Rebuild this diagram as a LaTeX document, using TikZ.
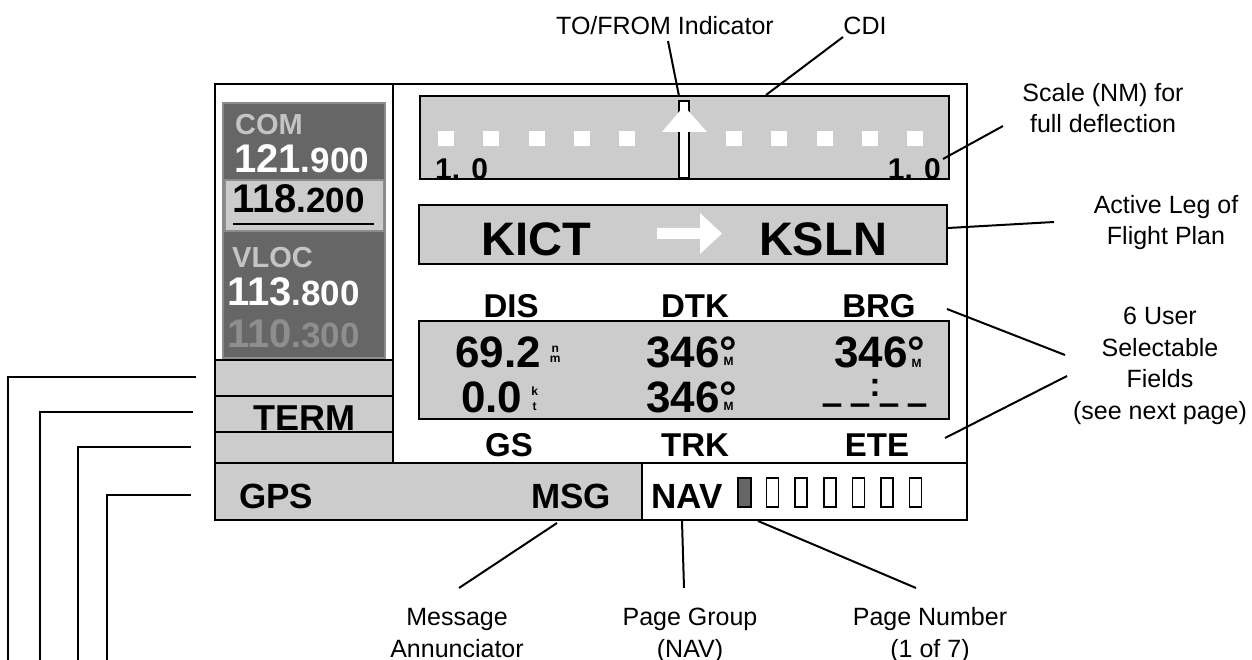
\documentclass[tikz,border=0pt]{standalone}
\usepackage{fontspec}
\setmainfont{Liberation Sans}
\definecolor{lcd}{HTML}{CCCCCC}
\definecolor{dk}{HTML}{666666}
\definecolor{dkb}{HTML}{8C8C8C}
\definecolor{comc}{HTML}{C4C4C4}
\definecolor{dim}{HTML}{8E8E8E}
\newcommand{\fs}[1]{\fontsize{#1}{#1}\selectfont}
\newcommand{\uscore}{\scalebox{0.95}[2.6]{\_}}
\newcommand{\degM}[1]{\llap{\raisebox{#1}{\makebox[17pt]{\fs{12}M}}}}
\begin{document}
\begin{tikzpicture}[x=1pt,y=-1pt,
  frame/.style={draw=black,line width=2pt},
  leader/.style={draw=black,line width=2pt},
  lbl/.style={font=\fontsize{25}{31.5}\selectfont, align=center, inner sep=0pt, anchor=base},
  bt/.style={font=\bfseries, inner sep=0pt, anchor=base}]
\useasboundingbox (0,0) rectangle (1252,660);

% ---------- display background ----------
\fill[lcd] (215,360) rectangle (393,463);
\fill[lcd] (215,463) rectangle (642,520);
\draw[frame] (215,84) rectangle (967,520);
\draw[frame] (393,84) -- (393,463);
\draw[frame] (215,463) -- (967,463);
\draw[frame] (642,463) -- (642,520);
\draw[frame] (215,360) -- (393,360);
\draw[frame] (215,396) -- (393,396);
\draw[frame] (215,432) -- (393,432);

% ---------- radio panel ----------
\draw[fill=dk, draw=dkb, line width=2pt] (223,103) rectangle (385,358);
\draw[fill=lcd, draw=dkb, line width=1.5pt] (225,180) rectangle (384,231);
\node[bt, anchor=base west, text=comc, font=\fs{29}\bfseries] (com) at (235,135) {COM};
\node[bt, anchor=base west, text=white] (f1) at (234,173) {\fs{40}121\fs{35}.900};
\node[bt, anchor=base west, text=black] (f2) at (232,213) {\fs{40}118\fs{35}.200};
\draw[line width=2.5pt] (233,224) -- (374,224);
\node[bt, anchor=base west, text=comc, font=\fs{29}\bfseries] (vloc) at (232,267) {VLOC};
\node[bt, anchor=base west, text=white] (f3) at (227,305) {\fs{40}113\fs{35}.800};
\node[bt, anchor=base west, text=dim] (f4) at (227,347) {\fs{40}110\fs{35}.300};

\node[bt, font=\fs{36}\bfseries] (term) at (304,430) {TERM};
\node[bt, anchor=base west, font=\fs{35}\bfseries] (gps) at (239,508) {GPS};
\node[bt, anchor=base east, font=\fs{35}\bfseries] (msg) at (611,508) {MSG};
\node[bt, anchor=base west, font=\fs{35}\bfseries] (nav) at (651,508) {NAV};
\foreach \i in {0,...,6}{
  \pgfmathsetmacro{\px}{738+28.6*\i}
  \ifnum\i=0
    \draw[fill=dk, line width=1.5pt] (\px,478) rectangle (\px+13,507);
  \else
    \draw[fill=white, line width=1.5pt] (\px,478) rectangle (\px+12,507);
  \fi
}

% ---------- CDI ----------
\draw[fill=lcd, line width=2pt] (420,96) rectangle (949,179);
\foreach \cx in {446,491,537,582,627,734,779,825,870,915}
  \fill[white] (\cx-8,131) rectangle (\cx+8,146);
\draw[fill=white, line width=1.5pt] (679,101) rectangle (689,178);
\fill[white] (684,106) -- (707,132) -- (662,132) -- cycle;
\node[bt, anchor=base west, font=\fs{30}\bfseries] (scl) at (435,180) {1. 0};
\node[bt, anchor=base east, font=\fs{30}\bfseries] (scr) at (941,180) {1. 0};

% ---------- active leg ----------
\draw[fill=lcd, line width=2pt] (419,205) rectangle (947,264);
\node[bt, font=\fs{47}\bfseries] (from) at (536,255) {KICT};
\node[bt, font=\fs{47}\bfseries] (to) at (823,255) {KSLN};
\fill[white] (657,228) -- (700,228) -- (700,213) -- (722,233.5) -- (700,254) -- (700,239) -- (657,239) -- cycle;

% ---------- data fields ----------
\draw[fill=lcd, line width=2pt] (419,321) rectangle (949,419);
\node[bt, font=\fs{33}\bfseries] (dis) at (511,317) {DIS};
\node[bt, font=\fs{33}\bfseries] (dtk) at (695,317) {DTK};
\node[bt, font=\fs{33}\bfseries] (brg) at (879,317) {BRG};
\node[bt, font=\fs{33}\bfseries] (gs) at (509,456) {GS};
\node[bt, font=\fs{33}\bfseries] (trk) at (695,456) {TRK};
\node[bt, font=\fs{33}\bfseries] (ete) at (877,456) {ETE};

\node[bt, anchor=base west, font=\fs{44}\bfseries] (v1) at (455,367)
  {69.2\hspace{9pt}\rlap{\raisebox{15pt}{\makebox[10.7pt]{\fs{12}n}}}\raisebox{5pt}{\fs{12}m}};
\node[bt, anchor=base west, font=\fs{44}\bfseries] (v2) at (461,412)
  {0.0\hspace{9pt}\rlap{\raisebox{17pt}{\makebox[6.7pt]{\fs{12}k}}}\raisebox{2pt}{\makebox[6.7pt]{\fs{12}t}}};
\node[bt, anchor=base west, font=\fs{44}\bfseries] (v3) at (646,367) {346°\degM{2pt}};
\node[bt, anchor=base west, font=\fs{44}\bfseries] (v4) at (646,412) {346°\degM{2pt}};
\node[bt, anchor=base west, font=\fs{44}\bfseries] (v5) at (834,367) {346°\degM{0pt}};
\node[bt, font=\fs{34}\bfseries] (v6) at (875,396) {\uscore\ \uscore:\uscore\ \uscore};

% ---------- labels ----------
\node[lbl] (tofrom) at (665,35) {TO/FROM Indicator};
\node[lbl] (cdi) at (865,35) {CDI};
\node[lbl] (scale) at (1103,133) {Scale (NM) for\\full deflection};
\node[lbl] (leg) at (1166,245) {Active Leg of\\Flight Plan};
\node[lbl] (fields) at (1160,419) {6 User\\Selectable\\Fields\\(see next page)};
\node[lbl] (msgl) at (457,657) {Message\\Annunciator};
\node[lbl] (pgl) at (690,657) {Page Group\\(NAV)};
\node[lbl] (pnl) at (930,657) {Page Number\\(1 of 7)};

% ---------- leaders ----------
\coordinate (tfA) at (668,41);  \coordinate (tfB) at (679,96);
\coordinate (cdA) at (843,37);  \coordinate (cdB) at (766,95);
\coordinate (scA) at (1003,126); \coordinate (scB) at (943,159);
\coordinate (lgA) at (1054,222); \coordinate (lgB) at (948,228);
\coordinate (fdA) at (1065,355); \coordinate (fdB) at (947,309);
\coordinate (fdC) at (1067,376); \coordinate (fdD) at (945,438);
\coordinate (msA) at (557,523); \coordinate (msB) at (459,588);
\coordinate (pgA) at (682,521); \coordinate (pgB) at (684,588);
\coordinate (pnA) at (758,521); \coordinate (pnB) at (916,588);
\draw[leader] (tfA) -- (tfB);
\draw[leader] (cdA) -- (cdB);
\draw[leader] (scA) -- (scB);
\draw[leader] (lgA) -- (lgB);
\draw[leader] (fdA) -- (fdB);
\draw[leader] (fdC) -- (fdD);
\draw[leader] (msA) -- (msB);
\draw[leader] (pgA) -- (pgB);
\draw[leader] (pnA) -- (pnB);

% ---------- left brackets ----------
\coordinate (k1) at (196,377); \coordinate (k1e) at (8,660);
\coordinate (k2) at (193,412); \coordinate (k2e) at (40,660);
\coordinate (k3) at (191,447); \coordinate (k3e) at (78,660);
\coordinate (k4) at (191,495); \coordinate (k4e) at (107,660);
\draw[leader] (k1) -| (k1e);
\draw[leader] (k2) -| (k2e);
\draw[leader] (k3) -| (k3e);
\draw[leader] (k4) -| (k4e);
\end{tikzpicture}
\end{document}
